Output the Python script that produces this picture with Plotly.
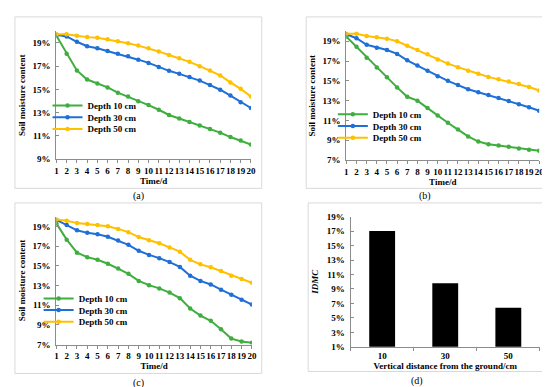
import plotly.graph_objects as go

days = list(range(1, 21))
series_names = ["Depth 10 cm", "Depth 30 cm", "Depth 50 cm"]
colors = ["#3FAE3F", "#1F6FD6", "#FFC000"]

# Panel (a)
a_10 = [19.62, 18.07, 16.63, 15.85, 15.5, 15.17, 14.72, 14.38, 13.99, 13.65,
        13.25, 12.8, 12.5, 12.2, 11.9, 11.6, 11.28, 10.9, 10.6, 10.25]
a_30 = [19.7, 19.56, 19.1, 18.72, 18.55, 18.3, 18.07, 17.85, 17.56, 17.28,
        16.92, 16.6, 16.34, 16.06, 15.76, 15.37, 14.97, 14.47, 13.9, 13.4]
a_50 = [19.75, 19.75, 19.62, 19.5, 19.45, 19.31, 19.15, 18.97, 18.77, 18.55,
        18.27, 17.96, 17.68, 17.37, 17.0, 16.63, 16.2, 15.6, 15.05, 14.4]

# Panel (b)
b_10 = [19.46, 18.44, 17.33, 16.34, 15.36, 14.34, 13.39, 13.0, 12.25, 11.49,
        10.77, 10.08, 9.39, 8.87, 8.6, 8.47, 8.34, 8.18, 8.05, 7.95]
b_30 = [19.7, 19.3, 18.64, 18.34, 18.11, 17.72, 17.07, 16.54, 16.02, 15.46,
        15.0, 14.57, 14.15, 13.85, 13.56, 13.26, 12.97, 12.64, 12.34, 11.98]
b_50 = [19.75, 19.75, 19.52, 19.39, 19.26, 19.0, 18.54, 18.11, 17.69, 17.16,
        16.74, 16.38, 16.02, 15.72, 15.4, 15.16, 14.93, 14.67, 14.38, 14.02]

# Panel (c)
c_10 = [19.3, 17.65, 16.33, 15.87, 15.6, 15.2, 14.71, 14.18, 13.46, 13.03,
        12.7, 12.27, 11.71, 10.66, 9.94, 9.41, 8.55, 7.6, 7.3, 7.17]
c_30 = [19.65, 19.13, 18.6, 18.34, 18.2, 17.94, 17.55, 17.12, 16.52, 16.1,
        15.77, 15.37, 14.88, 13.99, 13.46, 13.1, 12.57, 12.05, 11.55, 11.06]
c_50 = [19.7, 19.56, 19.33, 19.23, 19.13, 19.0, 18.74, 18.41, 17.91, 17.58,
        17.28, 16.86, 16.43, 15.6, 15.14, 14.85, 14.46, 13.99, 13.66, 13.27]

# Panel (d)
d_depths = ["10", "30", "50"]
d_idmc = [17.0, 9.8, 6.4]

yticks_a = [9, 11, 13, 15, 17, 19]
yticks_bc = [7, 9, 11, 13, 15, 17, 19]
yticks_d = [1, 3, 5, 7, 9, 11, 13, 15, 17, 19]

W, H = 550, 387
FONT = "Liberation Serif"
AXC = "#8C8C8C"
BOLD9 = dict(family=FONT, size=9, color="black", weight="bold")


def fx(px):
    return px / W


def fy(py):
    return 1 - py / H


def pct(vals):
    return [f"{v}%" for v in vals]


fig = go.Figure()

panels = [
    ("x", "y", [a_10, a_30, a_50], (47, 244), (18.8, 150), [9, 20], yticks_a,
     (87, [103, 115, 127])),
    ("x2", "y2", [b_10, b_30, b_50], (340.7, 536), (18.8, 151), [7, 20], yticks_bc,
     (376, [112, 124, 136])),
    ("x3", "y3", [c_10, c_30, c_50], (47, 245), (208.9, 340.3), [7, 20], yticks_bc,
     (78, [301, 313, 325])),
]

leg_idx = 1
for xa, ya, data, xdom, ydom, yr, yt, (lx, lys) in panels:
    for k in range(3):
        lname = "legend" if leg_idx == 1 else f"legend{leg_idx}"
        fig.add_trace(go.Scatter(
            x=days, y=data[k], mode="lines+markers", name=series_names[k],
            line=dict(color=colors[k], width=2),
            marker=dict(color=colors[k], size=4.5, symbol="circle"),
            xaxis=xa, yaxis=ya, legend=lname, showlegend=True,
        ))
        fig.update_layout(**{lname: dict(
            x=fx(lx - 49), y=fy(lys[k] - 8), xanchor="left", yanchor="middle",
            bgcolor="rgba(0,0,0,0)", borderwidth=0, itemwidth=30,
            font=BOLD9, tracegroupgap=0,
        )})
        leg_idx += 1
    xkey = "xaxis" if xa == "x" else "xaxis" + xa[1:]
    ykey = "yaxis" if ya == "y" else "yaxis" + ya[1:]
    fig.update_layout(**{
        xkey: dict(domain=[fx(xdom[0]), fx(xdom[1])], range=[1, 20], anchor=ya,
                   tickvals=days, ticktext=[str(d) for d in days], tickangle=0,
                   ticks="outside", ticklen=3, tickcolor=AXC,
                   showline=True, linecolor=AXC, linewidth=1, showgrid=False,
                   zeroline=False, tickfont=BOLD9,
                   title=dict(text="Time/d", standoff=2, font=BOLD9)),
        ykey: dict(domain=[fy(ydom[1]), fy(ydom[0])], range=yr, anchor=xa,
                   tickvals=yt, ticktext=pct(yt), ticks="inside", ticklen=3,
                   tickcolor=AXC, showline=True, linecolor=AXC, linewidth=1,
                   showgrid=False, zeroline=False, tickfont=BOLD9,
                   ticklabelstandoff=3,
                   title=dict(text="Soil moisture content", standoff=5, font=BOLD9)),
    })

fig.add_trace(go.Bar(
    x=d_depths, y=d_idmc, marker=dict(color="black", line=dict(width=0)),
    xaxis="x4", yaxis="y4", showlegend=False, name="IDMC",
))
fig.update_layout(
    xaxis4=dict(domain=[fx(345), fx(536.7)], anchor="y4", type="category",
                tickson="boundaries", ticks="outside", ticklen=3, tickcolor=AXC,
                showline=True, linecolor=AXC, linewidth=1, showgrid=False,
                tickfont=BOLD9,
                title=dict(text="Vertical distance from the ground/cm", standoff=0,
                           font=BOLD9)),
    yaxis4=dict(domain=[fy(342.7), fy(209)], anchor="x4", range=[1, 19],
                tickvals=yticks_d, ticktext=pct(yticks_d), ticks="inside", ticklen=3,
                tickcolor=AXC, showline=True, linecolor=AXC, linewidth=1,
                showgrid=False, zeroline=False, tickfont=BOLD9,
                ticklabelstandoff=3,
                title=dict(text="<i>IDMC</i>", standoff=6, font=BOLD9)),
    bargap=0.59,
)

frames = [(5, 4, 255, 180), (300, 4, 549, 180), (5, 195, 255, 370), (302, 195, 543, 368)]
shapes = []
for x0, y0, x1, y1 in frames:
    shapes.append(dict(type="rect", xref="paper", yref="paper",
                       x0=fx(x0), x1=fx(x1), y0=fy(y1), y1=fy(y0),
                       line=dict(color="#D9D9D9", width=1), layer="below"))

captions = [("(a)", 130, 188), ("(b)", 420, 188), ("(c)", 130, 380), ("(d)", 412, 378)]
annotations = [dict(text=t, x=fx(x), y=fy(y), xref="paper", yref="paper",
                    showarrow=False, xanchor="center", yanchor="middle",
                    font=dict(family=FONT, size=10, color="black"))
               for t, x, y in captions]

fig.update_layout(
    width=W, height=H, margin=dict(l=0, r=0, t=0, b=0),
    paper_bgcolor="white", plot_bgcolor="white",
    shapes=shapes, annotations=annotations,
    font=dict(family=FONT, size=9, color="black"),
)

fig.write_html("out.html")
